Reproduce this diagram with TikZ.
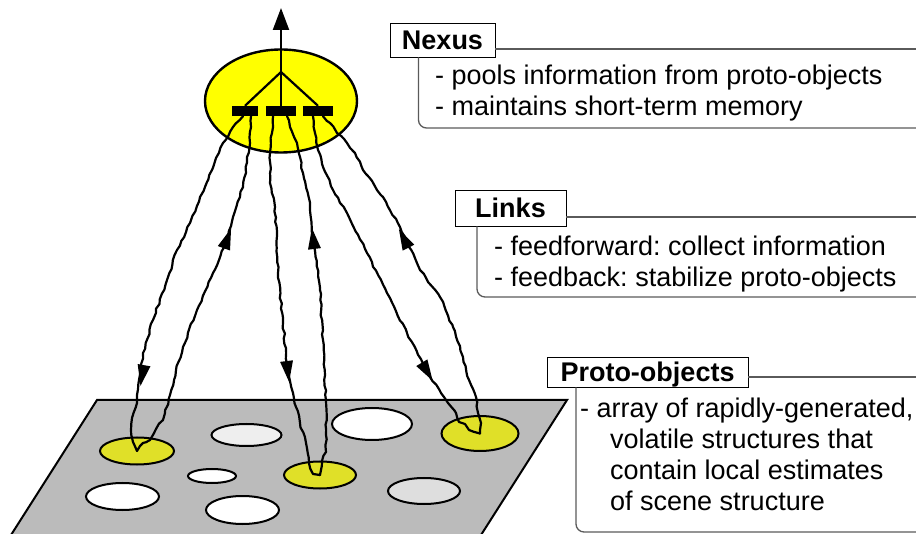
\documentclass[tikz,border=0pt]{standalone}
\usepackage{fontspec}
\setmainfont{Liberation Sans}
\usetikzlibrary{arrows.meta,decorations.pathmorphing,shapes.geometric}
\definecolor{nexusyellow}{RGB}{255,255,0}
\definecolor{patchyellow}{RGB}{224,224,40}
\definecolor{planegray}{RGB}{187,187,187}
\definecolor{paleA}{RGB}{238,238,238}
\definecolor{paleB}{RGB}{222,222,222}
\definecolor{bracketgray}{RGB}{90,90,90}
\frenchspacing
\begin{document}
\begin{tikzpicture}[x=1pt,y=-1pt,
  font=\fontsize{27}{31}\selectfont,
  link/.style={line width=2.2pt, line join=round, line cap=round, decorate,
     decoration={random steps, segment length=5pt, amplitude=0.9pt}},
  patch/.style={ellipse, draw, line width=2pt, inner sep=0pt},
  barbox/.style={rectangle, fill=black, inner sep=0pt, minimum height=10pt},
  hdr/.style={draw, line width=0.8pt, fill=white, inner sep=0pt, font=\fontsize{27}{31}\selectfont\bfseries, text height=19pt, text depth=0pt},
  brk/.style={draw=bracketgray, line width=1.3pt},
  txt/.style={anchor=base west, inner sep=0pt},
  tipmark/.pic={\fill (9,0) -- (-12,6.5) -- (-12,-6.5) -- cycle;}
]
\useasboundingbox (0,0) rectangle (916,534);

% ground plane
\draw[fill=planegray, line width=2pt] (97,400) -- (567,400) -- (474,546) -- (4,546) -- cycle;

% proto-object patches
\node[patch, fill=white, minimum width=73pt, minimum height=27pt] (oD) at (122.5,496.5) {};
\node[patch, fill=white, minimum width=73pt, minimum height=28pt] (oE) at (242.5,510) {};
\node[patch, fill=white, minimum width=48pt, minimum height=14pt] (oC) at (212,476) {};
\node[patch, fill=paleA, minimum width=70pt, minimum height=22pt] (oA) at (246.5,435) {};
\node[patch, fill=white, minimum width=80pt, minimum height=32pt] (oB) at (372,424) {};
\node[patch, fill=paleB, minimum width=72pt, minimum height=26pt] (oF) at (424,491) {};
\node[patch, fill=patchyellow, minimum width=74pt, minimum height=27pt] (pL) at (137,451) {};
\node[patch, fill=patchyellow, minimum width=72pt, minimum height=27pt] (pM) at (320,475) {};
\node[patch, fill=patchyellow, minimum width=77pt, minimum height=35pt] (pR) at (480,433.5) {};

% nexus
\node[ellipse, draw, line width=2.4pt, fill=nexusyellow, minimum width=152pt, minimum height=103pt, inner sep=0pt] (nexus) at (281,101) {};
\node[barbox, minimum width=26pt] (bL) at (245,111) {};
\node[barbox, minimum width=30pt] (bM) at (281,111) {};
\node[barbox, minimum width=30pt] (bR) at (318,111) {};
\coordinate (br) at (281,72);
\coordinate (top) at (281,8);
\draw[line width=2.2pt] (bL.north) -- (br) -- (bR.north);
\draw[line width=2.2pt, -{Triangle[length=22pt,width=16pt]}] (bM.north) -- (top);

\coordinate (sA) at ([xshift=-2pt]bL.south);
\coordinate (sB) at ([xshift=6pt]bL.south);
\coordinate (sC) at ([xshift=-8pt]bM.south);
\coordinate (sD) at ([xshift=6pt]bM.south);
\coordinate (sE) at ([xshift=-5pt]bR.south);
\coordinate (sF) at ([xshift=5pt]bR.south);

% links
\pgfmathsetseed{7}
\draw[link] (sA) -- (233,127) -- (223,143) -- (216,158) -- (212,170) -- (207,182) -- (200,197) -- (190,223) -- (177,250) -- (167,280) -- (153,320) -- (143,353) -- (139,380) -- (137,403) -- (132,418) -- (131,430) -- (133,442) -- (pL.center);
\draw[link] (sB) -- (251,127) -- (250,143) -- (247,157) -- (246,173) -- (240,197) -- (233,217) -- (228,237) -- (213,273) -- (197,310) -- (183,347) -- (176,370) -- (170,395) -- (163,420) -- (156,429) -- (150,440) -- (143,443) -- (pL.center);
\draw[link] (sC) -- (272,133) -- (270,153) -- (270,183) -- (275,207) -- (278,273) -- (283,323) -- (288,373) -- (293,393) -- (296,407) -- (300,423) -- (306,443) -- (309,463) -- (313,474) -- (pM.center);
\draw[link] (sD) -- (290,127) -- (297,143) -- (300,157) -- (303,173) -- (310,207) -- (313,237) -- (320,290) -- (323,340) -- (326,400) -- (326,452) -- (322,461) -- (321,470) -- (pM.center);
\draw[link] (sE) -- (315,133) -- (318,150) -- (323,167) -- (333,190) -- (347,213) -- (367,253) -- (387,293) -- (407,333) -- (428,373) -- (441,393) -- (448,403) -- (456,413) -- (459,422) -- (465,424) -- (469,430) -- (pR.center);
\draw[link] (sF) -- (330,123) -- (337,133) -- (347,143) -- (355,153) -- (363,170) -- (383,197) -- (400,227) -- (420,270) -- (440,297) -- (453,327) -- (463,357) -- (469,380) -- (476,397) -- (478,413) -- (481,423) -- (480,430) -- (pR.center);

% arrowheads on links
\pic[rotate=-100] at (142,377) {tipmark};
\pic[rotate=70] at (228,237) {tipmark};
\pic[rotate=-83] at (288,373) {tipmark};
\pic[rotate=97] at (313,237) {tipmark};
\pic[rotate=-59] at (428,373) {tipmark};
\pic[rotate=117] at (403,237) {tipmark};

% Nexus label
\node[hdr, minimum width=105pt, minimum height=34pt] (hN) at (442.5,40) {Nexus};
\draw[brk] (hN.east |- 0,49) -- (916,49);
\draw[brk, rounded corners=8pt] (hN.south west -| 418.5,0) -- (418.5,128) -- (916,128);
\node[txt] (n1) at (435,85) {- pools information from proto-objects};
\node[txt] (n2) at (435,116) {- maintains short-term memory};

% Links label
\node[hdr, minimum width=111pt, minimum height=36pt] (hL) at (510.5,208) {Links};
\draw[brk] (hL.east |- 0,217) -- (916,217);
\draw[brk, rounded corners=8pt] (hL.south west -| 477,0) -- (477,297) -- (916,297);
\node[txt] (l1) at (494,256) {- feedforward: collect information};
\node[txt] (l2) at (494,287) {- feedback: stabilize proto-objects};

% Proto-objects label
\node[hdr, minimum width=201pt, minimum height=30pt] (hP) at (647.5,372) {Proto-objects};
\draw[brk] (hP.east |- 0,377) -- (916,377);
\draw[brk, rounded corners=8pt] (hP.south west -| 576,0) -- (576,532) -- (916,532);
\node[txt] (q1) at (580,418) {- array of rapidly-generated,};
\node[txt] (q2) at (610,449) {volatile structures that};
\node[txt] (q3) at (610,479) {contain local estimates};
\node[txt] (q4) at (610,510) {of scene structure};
\end{tikzpicture}
\end{document}
